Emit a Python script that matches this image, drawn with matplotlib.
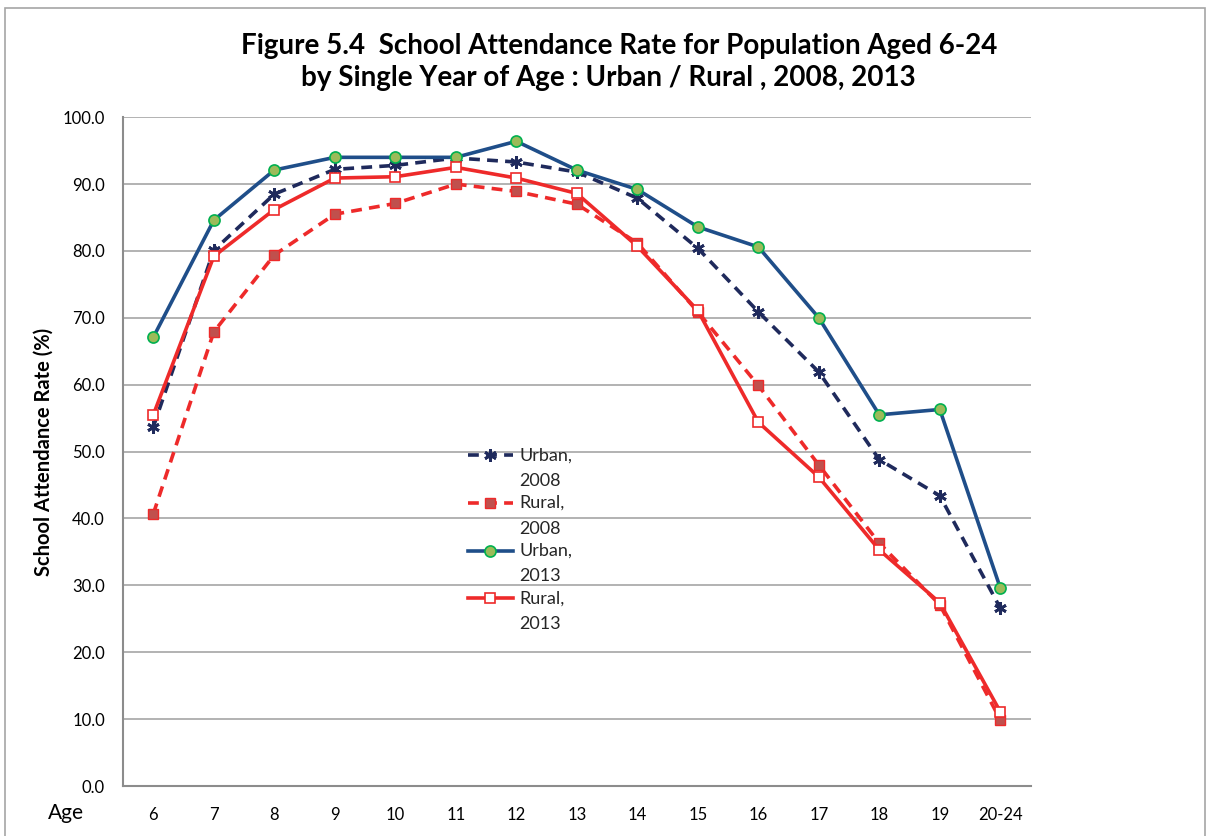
import matplotlib

matplotlib.use("Agg")
import matplotlib.pyplot as plt
from matplotlib.patches import Rectangle
from matplotlib.legend_handler import HandlerLine2D
from matplotlib.transforms import Affine2D

plt.rcParams["font.family"] = ["Lato", "DejaVu Sans"]

ages = ["6", "7", "8", "9", "10", "11", "12", "13", "14", "15", "16", "17", "18", "19", "20-24"]
urban_2008 = [53.7, 80.1, 88.5, 92.2, 92.8, 93.9, 93.3, 91.8, 87.9, 80.4, 70.9, 61.9, 48.8, 43.4, 26.6]
rural_2008 = [40.7, 67.9, 79.4, 85.5, 87.1, 90.0, 88.9, 87.0, 81.2, 70.9, 59.9, 48.0, 36.3, 27.1, 9.9]
urban_2013 = [67.1, 84.6, 92.1, 94.0, 94.0, 94.0, 96.4, 92.1, 89.2, 83.6, 80.6, 70.0, 55.5, 56.3, 29.6]
rural_2013 = [55.5, 79.2, 86.2, 90.9, 91.1, 92.5, 90.9, 88.6, 80.7, 71.1, 54.4, 46.2, 35.3, 27.4, 11.1]
y_ticks = [0, 10, 20, 30, 40, 50, 60, 70, 80, 90, 100]


class TopLineHandler(HandlerLine2D):
    # keep the legend key level with the first line of a two-line label
    def create_artists(self, legend, orig_handle, xdescent, ydescent,
                       width, height, fontsize, trans):
        arts = super().create_artists(legend, orig_handle, xdescent, ydescent,
                                      width, height, fontsize, trans)
        shifted = Affine2D().translate(0, 9.5) + trans
        for a in arts:
            a.set_transform(shifted)
        return arts


fig = plt.figure(figsize=(12.1, 8.36), dpi=100)
ax = fig.add_axes([0.1017, 0.0598, 0.750, 0.800])
x = range(len(ages))

ax.plot(x, urban_2008, color="#1F2A5C", lw=2.6, ls=(0, (3, 2)), marker=(6, 2, 0),
        ms=9, mew=2, label="Urban,\n2008", zorder=3)
ax.plot(x, rural_2008, color="#EE2A2A", lw=2.6, ls=(0, (3, 2)), marker="s",
        ms=7.5, mfc="#C0504D", mec="#EE2A2A", label="Rural,\n2008", zorder=3)
ax.plot(x, urban_2013, color="#1F4E89", lw=2.6, marker="o", ms=8,
        mfc="#9BBB59", mec="#00B050", mew=1.2, label="Urban,\n2013", zorder=4)
ax.plot(x, rural_2013, color="#EE2A2A", lw=2.6, marker="s", ms=7.5,
        mfc="white", mec="#EE2A2A", mew=1.2, label="Rural,\n2013", zorder=4)

ax.set_xlim(-0.5, len(ages) - 0.5)
ax.set_ylim(0, 100)
ax.set_xticks(list(x))
ax.set_xticklabels(ages, fontsize=12)
ax.set_yticks(y_ticks)
ax.set_yticklabels([f"{v:.1f}" for v in y_ticks], fontsize=12)
ax.tick_params(axis="x", length=0, pad=15)
ax.tick_params(axis="y", length=0, pad=13)
ax.grid(axis="y", color="#A6A6A6", lw=1.2)
ax.set_axisbelow(True)
for s in ["top", "right"]:
    ax.spines[s].set_visible(False)
for s in ["left", "bottom"]:
    ax.spines[s].set_color("#8C8C8C")
    ax.spines[s].set_linewidth(1.5)

ax.set_ylabel("School Attendance Rate (%)", fontsize=14.5, fontweight="bold")
ax.yaxis.set_label_coords(-0.077, 0.5)
fig.text(0.040, 0.028, "Age", fontsize=15, ha="left", va="center")

fig.text(0.512, 0.945, "Figure 5.4  School Attendance Rate for Population Aged 6-24",
         fontsize=20, fontweight="bold", ha="center", va="center")
fig.text(0.503, 0.907, "by Single Year of Age : Urban / Rural , 2008, 2013",
         fontsize=20, fontweight="bold", ha="center", va="center")

handles, labels = ax.get_legend_handles_labels()
leg = ax.legend(handles, labels, loc="upper left", bbox_to_anchor=(0.370, 0.52),
                frameon=False, fontsize=13, handlelength=2.5, labelspacing=0.33,
                handletextpad=0.35, borderpad=0,
                handler_map={h: TopLineHandler() for h in handles})
for t in leg.get_texts():
    t.set_linespacing(1.75)
    t.set_color("#262626")

fig.patches.append(Rectangle((0.004, -0.01), 0.992, 1.0, transform=fig.transFigure,
                             fill=False, edgecolor="#A6A6A6", lw=1.2))

fig.savefig("out.png", dpi=100)
